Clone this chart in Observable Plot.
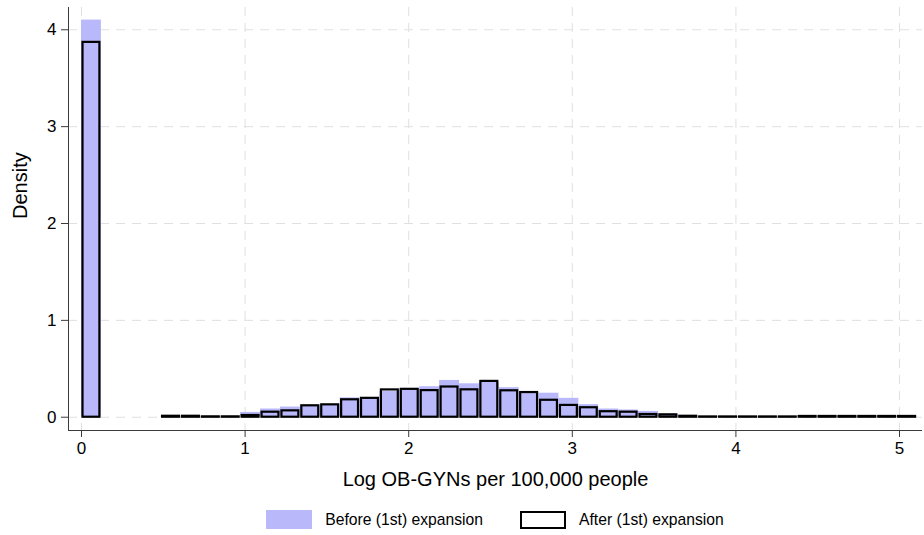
<!DOCTYPE html>
<html>
<head>
<meta charset="utf-8">
<script src="https://cdn.jsdelivr.net/npm/d3@7"></script>
<script src="https://cdn.jsdelivr.net/npm/@observablehq/plot@0.6"></script>
<style>
  html, body { margin: 0; padding: 0; background: #fff; }
  body { width: 924px; height: 535px; overflow: hidden; font-family: "Liberation Sans", Arial, sans-serif; color: #000; }
  #chart svg { display: block; }
  .legend { display: flex; justify-content: center; align-items: center; margin-left: 68px; margin-top: 3px; width: 854px; height: 37px; font-size: 15.7px; }
  .legend .item { display: flex; align-items: center; }
  .legend .swatch { width: 46px; height: 19px; box-sizing: border-box; margin-right: 13px; }
  .legend .item + .item { margin-left: 37px; }
</style>
</head>
<body>
<div id="chart"></div>
<div class="legend" id="legend"></div>
<script>
// Histogram bins: 42 equal-width bins starting at 0
const binWidth = 0.1216;

// Density per bin, before the (1st) expansion
const densityBefore = [
  4.10, 0, 0, 0, 0.010, 0.010, 0.005, 0.006, 0.050, 0.085,
  0.105, 0.125, 0.130, 0.200, 0.190, 0.265, 0.290, 0.315, 0.380, 0.345,
  0.360, 0.305, 0.250, 0.248, 0.195, 0.130, 0.085, 0.075, 0.060, 0.028,
  0.010, 0.005, 0.005, 0.005, 0.005, 0.005, 0.010, 0.010, 0.010, 0.010,
  0.010, 0.010
];

// Density per bin, after the (1st) expansion
const densityAfter = [
  3.87, 0, 0, 0, 0.010, 0.010, 0.004, 0.004, 0.018, 0.052,
  0.066, 0.118, 0.128, 0.180, 0.195, 0.282, 0.288, 0.275, 0.312, 0.283,
  0.370, 0.273, 0.255, 0.175, 0.122, 0.098, 0.057, 0.052, 0.028, 0.025,
  0.010, 0.003, 0.003, 0.003, 0.003, 0.003, 0.008, 0.008, 0.008, 0.008,
  0.008, 0.008
];

const xTicks = [0, 1, 2, 3, 4, 5];
const yTicks = [0, 1, 2, 3, 4];
const xLabel = "Log OB-GYNs per 100,000 people";
const yLabel = "Density";
const seriesNames = ["Before (1st) expansion", "After (1st) expansion"];

const toBins = (values) => values
  .map((density, i) => ({x1: i * binWidth, x2: (i + 1) * binWidth, density}))
  .filter(d => d.density > 0);

const before = toBins(densityBefore);
const after = toBins(densityAfter);

const xDomain = [-0.0795, 5.1405];
const yDomain = [-0.137, 4.23];
const fillBefore = "#b8b8fa";
const gridStyle = {stroke: "#e0e0e0", strokeOpacity: 1, strokeWidth: 1, strokeDasharray: "9,7"};
const axisColor = "#3a3a3a";

const chart = Plot.plot({
  width: 924,
  height: 498,
  marginLeft: 68,
  marginRight: 2,
  marginTop: 7,
  marginBottom: 68,
  style: {fontFamily: "'Liberation Sans', Arial, sans-serif", background: "#fff", color: "#000"},
  x: {domain: xDomain},
  y: {domain: yDomain},
  marks: [
    Plot.gridY(yTicks, gridStyle),
    Plot.gridX(xTicks, gridStyle),
    Plot.rectY(before, {x1: "x1", x2: "x2", y1: 0, y2: "density", fill: fillBefore}),
    Plot.rectY(after, {
      x1: "x1", x2: "x2", y1: 0, y2: "density",
      fill: "none", stroke: "#000", strokeWidth: 2.2,
      insetLeft: 1.5, insetRight: 1.5
    }),
    Plot.ruleX([xDomain[0]], {stroke: axisColor, strokeWidth: 1}),
    Plot.ruleY([yDomain[0]], {stroke: axisColor, strokeWidth: 1}),
    Plot.axisY(yTicks, {
      anchor: "left", tickSize: 7, tickPadding: 5, fontSize: 17,
      stroke: axisColor, fill: "#000", label: null, tickFormat: d => String(d)
    }),
    Plot.axisX(xTicks, {
      anchor: "bottom", tickSize: 7, tickPadding: 4, fontSize: 17,
      stroke: axisColor, fill: "#000", label: null, tickFormat: d => String(d)
    }),
    Plot.text([xLabel], {frameAnchor: "bottom", dy: 55, fontSize: 20, fill: "#000"}),
    Plot.text([yLabel], {frameAnchor: "left", dx: -48, rotate: -90, fontSize: 20, fill: "#000"})
  ]
});
document.getElementById("chart").append(chart);

// Legend below the plot
const legend = document.getElementById("legend");
const swatchStyles = [
  `background:${fillBefore};`,
  "background:#fff;border:2px solid #000;height:18px;"
];
seriesNames.forEach((name, i) => {
  const item = document.createElement("div");
  item.className = "item";
  const sw = document.createElement("div");
  sw.className = "swatch";
  sw.style.cssText = swatchStyles[i];
  const label = document.createElement("span");
  label.textContent = name;
  item.append(sw, label);
  legend.append(item);
});
</script>
</body>
</html>
